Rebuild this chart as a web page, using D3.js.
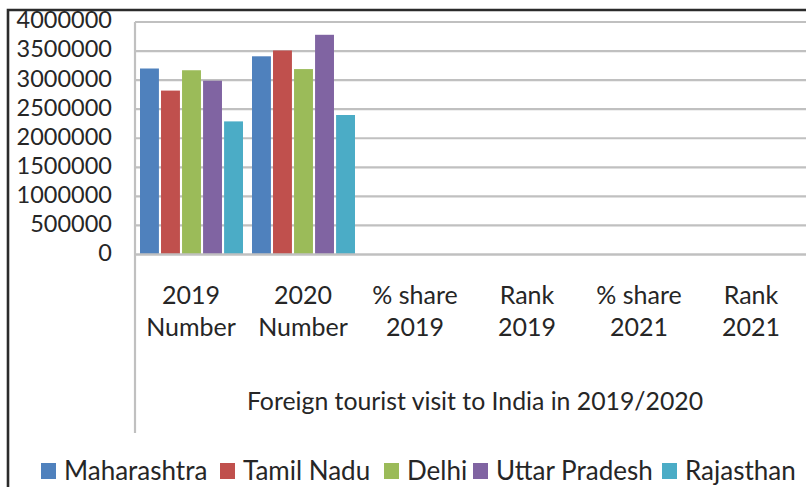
<!DOCTYPE html>
<html>
<head>
<meta charset="utf-8">
<script src="https://cdn.jsdelivr.net/npm/d3@7.9.0/dist/d3.min.js"></script>
<style>
  html, body { margin: 0; padding: 0; background: #fff; }
  svg { display: block; }
  text { font-family: Lato, "Open Sans", sans-serif; fill: #262626; }
</style>
</head>
<body>
<svg id="chart" width="806" height="487"></svg>
<script>
// categories on the x axis (two lines each)
const categories = [
  ['2019', 'Number'],
  ['2020', 'Number'],
  ['% share', '2019'],
  ['Rank', '2019'],
  ['% share', '2021'],
  ['Rank', '2021'],
];
const states = ['Maharashtra', 'Tamil Nadu', 'Delhi', 'Uttar Pradesh', 'Rajasthan'];
// values per state, one per category (empty categories have no bars)
const maharashtra = [3200000, 3410000, null, null, null, null];
const tamilNadu = [2820000, 3510000, null, null, null, null];
const delhi = [3170000, 3190000, null, null, null, null];
const uttarPradesh = [2990000, 3780000, null, null, null, null];
const rajasthan = [2290000, 2400000, null, null, null, null];
const yTicks = [0, 500000, 1000000, 1500000, 2000000, 2500000, 3000000, 3500000, 4000000];
const axisTitle = 'Foreign tourist visit to India in 2019/2020';

const colors = ['#4F81BD', '#C0504D', '#9BBB59', '#8064A2', '#4BACC6'];
const seriesValues = [maharashtra, tamilNadu, delhi, uttarPradesh, rajasthan];

const svg = d3.select('#chart');
const plot = { left: 135, right: 807, top: 22, bottom: 254.5 };
const catKeys = categories.map((c) => c.join(' '));

const x0 = d3.scaleBand().domain(catKeys).range([plot.left, plot.right]);
const x1 = d3.scaleBand().domain(states).range([5, x0.bandwidth() - 4]).paddingInner(0.1);
const y = d3.scaleLinear().domain([0, 4000000]).range([plot.bottom, plot.top]);
const color = d3.scaleOrdinal(states, colors);

// gridlines
svg.append('g')
  .selectAll('line')
  .data(yTicks.filter((d) => d > 0))
  .join('line')
  .attr('x1', plot.left)
  .attr('x2', plot.right)
  .attr('y1', (d) => y(d))
  .attr('y2', (d) => y(d))
  .attr('stroke', '#c0c0c0')
  .attr('stroke-width', 2.2);

// bars
const rows = [];
states.forEach((s, i) => {
  seriesValues[i].forEach((v, j) => {
    if (v != null) rows.push({ state: s, cat: catKeys[j], value: v });
  });
});
svg.append('g')
  .selectAll('rect')
  .data(rows)
  .join('rect')
  .attr('x', (d) => x0(d.cat) + x1(d.state))
  .attr('width', x1.bandwidth())
  .attr('y', (d) => y(d.value))
  .attr('height', (d) => y(0) - y(d.value))
  .attr('fill', (d) => color(d.state));

// y axis labels
const yAxis = d3.axisLeft(y).tickValues(yTicks).tickSize(0).tickPadding(23).tickFormat(d3.format('d'));
const yg = svg.append('g').attr('transform', `translate(${plot.left},0)`).call(yAxis);
yg.select('.domain').remove();
yg.selectAll('text')
  .attr('font-size', 23.5)
  .attr('dy', '0.25em')
  .style('font-family', 'Lato, sans-serif')
  .attr('fill', '#262626');

// axis lines
svg.append('line')
  .attr('x1', plot.left).attr('x2', plot.left)
  .attr('y1', plot.top).attr('y2', 433)
  .attr('stroke', '#c0c0c0').attr('stroke-width', 2.2);
svg.append('line')
  .attr('x1', plot.left - 1).attr('x2', plot.right)
  .attr('y1', plot.bottom).attr('y2', plot.bottom)
  .attr('stroke', '#c0c0c0').attr('stroke-width', 2.4);

// category labels
const catText = svg.append('g')
  .selectAll('text')
  .data(categories)
  .join('text')
  .attr('text-anchor', 'middle')
  .attr('font-size', 25)
  .attr('x', (d, i) => x0(catKeys[i]) + x0.bandwidth() / 2);
catText.selectAll('tspan')
  .data((d) => d)
  .join('tspan')
  .attr('x', function () { return this.parentNode.getAttribute('x'); })
  .attr('y', (d, i) => 304 + i * 32)
  .text((d) => d);

// axis title
svg.append('text')
  .attr('x', 475)
  .attr('y', 410)
  .attr('text-anchor', 'middle')
  .attr('font-size', 24.8)
  .text(axisTitle);

// legend
const legendX = [41, 220, 384, 473, 662];
const lg = svg.append('g')
  .selectAll('g')
  .data(states)
  .join('g')
  .attr('transform', (d, i) => `translate(${legendX[i]},463)`);
lg.append('rect')
  .attr('width', 15).attr('height', 16)
  .attr('fill', (d) => color(d));
lg.append('text')
  .attr('x', 23)
  .attr('y', 17)
  .attr('font-size', 26)
  .text((d) => d);

// chart border (cropped at right and bottom)
svg.append('path')
  .attr('d', 'M8,487 V10 H806')
  .attr('fill', 'none')
  .attr('stroke', '#2b2b2b')
  .attr('stroke-width', 2.6);
</script>
</body>
</html>
